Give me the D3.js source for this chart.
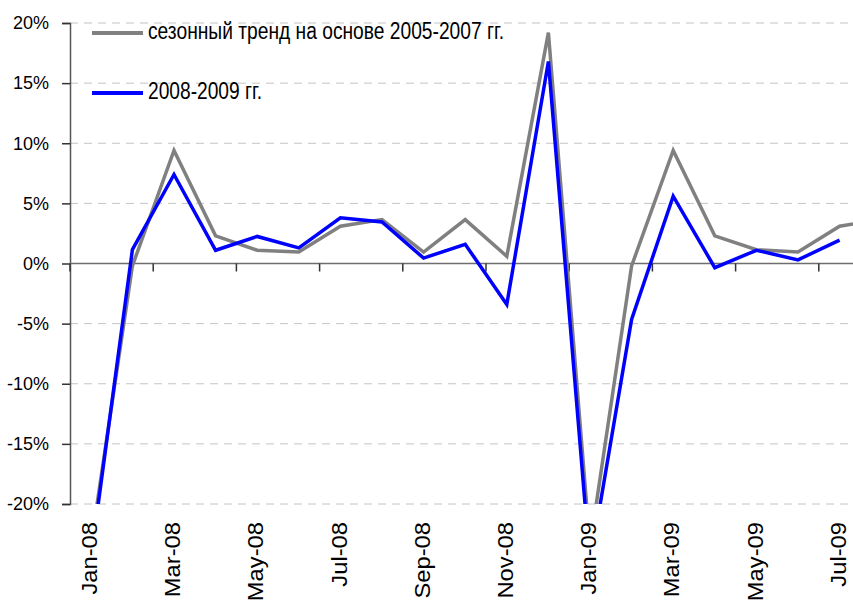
<!DOCTYPE html>
<html>
<head>
<meta charset="utf-8">
<script src="https://cdn.jsdelivr.net/npm/d3@7"></script>
<style>
  body { margin: 0; background: #fff; }
  svg { display: block; font-family: "Liberation Sans", Arial, sans-serif; }
</style>
</head>
<body>
<div id="graph"></div>
<script>
// months on the x axis (chart is cropped on the right, Aug-09 only partly visible)
var months = ["Jan-08", "Feb-08", "Mar-08", "Apr-08", "May-08", "Jun-08", "Jul-08", "Aug-08", "Sep-08", "Oct-08", "Nov-08", "Dec-08",
              "Jan-09", "Feb-09", "Mar-09", "Apr-09", "May-09", "Jun-09", "Jul-09", "Aug-09"];
// seasonal trend based on 2005-2007, % m/m
var trendValues = [-23.5, -0.2, 9.4, 2.3, 1.1, 0.95, 3.1, 3.65, 0.95, 3.65, 0.6, 19.2,
                   -23.5, -0.2, 9.4, 2.3, 1.15, 0.95, 3.1, 3.65];
// actual 2008-2009, % m/m
var actualValues = [-24.6, 1.15, 7.4, 1.1, 2.25, 1.3, 3.8, 3.45, 0.45, 1.6, -3.4, 16.8,
                    -25.0, -4.65, 5.6, -0.35, 1.1, 0.3, 1.95];
var yTicks = [20, 15, 10, 5, 0, -5, -10, -15, -20];
var labelMonths = months.filter(function(d, i) { return i % 2 === 0; });
var legendLabels = ["сезонный тренд на основе 2005-2007 гг.", "2008-2009 гг."];

var svgWidth = 853, svgHeight = 601;
var plotLeft = 70, plotTop = 23, plotBottom = 504;
var band = 41.6;

var xScale = d3.scaleBand().domain(months).range([plotLeft, plotLeft + band * months.length]).padding(0);
var yScale = d3.scaleLinear().domain([-20, 20]).range([plotBottom, plotTop]);

var svg = d3.select("#graph").append("svg")
	.attr("width", svgWidth)
	.attr("height", svgHeight);

svg.append("defs").append("clipPath").attr("id", "plotClip")
	.append("rect")
	.attr("x", plotLeft).attr("y", 0)
	.attr("width", svgWidth - plotLeft).attr("height", plotBottom);

// dashed gridlines
svg.append("g").selectAll("line")
	.data(yTicks.filter(function(d) { return d !== 0; }))
	.enter().append("line")
	.attr("x1", plotLeft).attr("x2", svgWidth)
	.attr("y1", function(d) { return yScale(d); })
	.attr("y2", function(d) { return yScale(d); })
	.style("stroke", "#c4c4c4")
	.style("stroke-width", 1)
	.style("stroke-dasharray", "8,6");

// y axis
var yAxis = svg.append("g")
	.attr("transform", "translate(" + plotLeft + ",0)")
	.call(d3.axisLeft(yScale).tickValues(yTicks).tickSize(8).tickPadding(13)
		.tickFormat(function(d) { return d + "%"; }));
yAxis.select(".domain").style("stroke", "#555").style("stroke-width", 1.5);
yAxis.selectAll(".tick line").style("stroke", "#333").style("stroke-width", 1.5);
yAxis.selectAll(".tick text")
	.style("font-family", "'Liberation Sans', Arial, sans-serif")
	.style("font-size", "18px")
	.style("fill", "#000");

// zero line with ticks every two months
svg.append("line")
	.attr("x1", plotLeft).attr("x2", svgWidth)
	.attr("y1", yScale(0)).attr("y2", yScale(0))
	.style("stroke", "#6e6e6e").style("stroke-width", 1.5);

svg.append("g").selectAll("line")
	.data(labelMonths)
	.enter().append("line")
	.attr("x1", function(d) { return xScale(d); })
	.attr("x2", function(d) { return xScale(d); })
	.attr("y1", yScale(0)).attr("y2", yScale(0) + 8)
	.style("stroke", "#333").style("stroke-width", 1.5);

// x labels, rotated
svg.append("g").selectAll("text")
	.data(labelMonths)
	.enter().append("text")
	.attr("transform", function(d) {
		return "translate(" + (xScale(d) + xScale.bandwidth() / 2 - 1) + ",522) rotate(-90) scale(1.08,1)";
	})
	.attr("text-anchor", "end")
	.attr("dy", "0.33em")
	.style("font-size", "22px")
	.style("fill", "#000")
	.text(function(d) { return d; });

// lines
var lineGen = d3.line()
	.x(function(d, i) { return xScale(months[i]) + xScale.bandwidth() / 2; })
	.y(function(d) { return yScale(d); });

var lines = svg.append("g").attr("clip-path", "url(#plotClip)");

lines.append("path")
	.attr("d", lineGen(trendValues))
	.style("fill", "none")
	.style("stroke", "#808080")
	.style("stroke-width", 3.5)
	.style("stroke-linejoin", "miter");

lines.append("path")
	.attr("d", lineGen(actualValues))
	.style("fill", "none")
	.style("stroke", "#0000ff")
	.style("stroke-width", 3.5)
	.style("stroke-linejoin", "miter");

// legend
var legendColors = ["#808080", "#0000ff"];
var legendY = [33, 93];
var legendWidths = [356, 114];
legendLabels.forEach(function(label, i) {
	svg.append("line")
		.attr("x1", 92).attr("x2", 143)
		.attr("y1", legendY[i]).attr("y2", legendY[i])
		.style("stroke", legendColors[i]).style("stroke-width", 4);
	svg.append("text")
		.attr("x", 148).attr("y", legendY[i] + 5.5)
		.attr("textLength", legendWidths[i])
		.attr("lengthAdjust", "spacingAndGlyphs")
		.style("font-size", "23px")
		.style("fill", "#000")
		.text(label);
});
</script>
</body>
</html>
